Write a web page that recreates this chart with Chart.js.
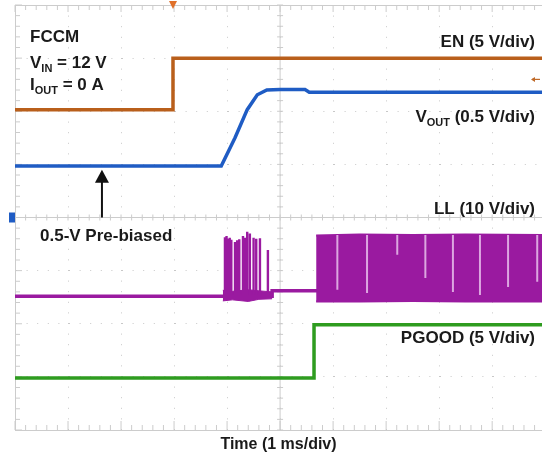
<!DOCTYPE html>
<html><head><meta charset="utf-8">
<script src="https://cdn.jsdelivr.net/npm/chart.js@4/dist/chart.umd.min.js"></script>
<style>html,body{margin:0;padding:0;background:#fff}#wrap{width:542px;height:462px}</style>
</head><body><div id="wrap"><canvas id="c" width="542" height="462"></canvas></div>
<script>
// ---- data (time in ms = divisions, level in screen divisions from bottom) ----
const enTime = [0, 2.98, 2.98, 9.94];
const enLevel = [6.03, 6.03, 7.0, 7.0];

const voutTime = [0, 3.89, 4.15, 4.38, 4.57, 4.75, 5.0, 5.47, 5.55, 9.94];
const voutLevel = [4.97, 4.97, 5.50, 6.03, 6.31, 6.40, 6.41, 6.41, 6.36, 6.36];

const llBaseTime = [0, 3.92, 3.92, 4.85, 4.85, 5.70];
const llBaseLevel = [2.52, 2.52, 2.52, 2.52, 2.62, 2.62];

const llBurstBandTime = [3.92, 4.1, 4.4, 4.6, 4.85];
const llBurstBandHigh = [2.63, 2.61, 2.64, 2.62, 2.60];
const llBurstBandLow  = [2.43, 2.45, 2.42, 2.46, 2.47];

const llBurstTime = [3.96, 3.99, 4.02, 4.05, 4.08, 4.15, 4.19, 4.23, 4.30, 4.34, 4.38, 4.43, 4.50, 4.55, 4.62, 4.77];
const llBurstTop  = [3.63, 3.65, 3.60, 3.62, 3.58, 3.54, 3.57, 3.59, 3.65, 3.62, 3.73, 3.70, 3.62, 3.60, 3.61, 3.39];

const llBandTime = [5.68, 6.5, 7.5, 8.5, 9.94];
const llBandHigh = [3.66, 3.68, 3.67, 3.68, 3.67];
const llBandLow  = [2.42, 2.42, 2.43, 2.42, 2.42];

const llGapTime   = [6.08, 6.64, 7.21, 7.74, 8.26, 8.77, 9.30, 9.85];
const llGapBottom = [2.64, 2.58, 3.30, 2.86, 2.60, 2.54, 2.69, 2.79];

const pgTime = [0, 5.64, 5.64, 9.94];
const pgLevel = [0.98, 0.98, 1.98, 1.98];

// ---- build point lists ----
const pts = (xs, ys) => xs.map((v, i) => ({x: v, y: ys[i]}));
const spikes = (xs, base, tops) => {
  const out = [];
  xs.forEach((v, i) => { out.push({x: v, y: base}, {x: v, y: tops[i]}, {x: v, y: null}); });
  return out;
};

const C_EN = '#b95f1b', C_VOUT = '#1f5cc4', C_LL = '#9a1aa0', C_PG = '#2e9c1f';
const FONT = '"Liberation Sans", Arial, sans-serif';

function line(ctx, x1, y1, x2, y2){ ctx.beginPath(); ctx.moveTo(x1, y1); ctx.lineTo(x2, y2); ctx.stroke(); }

function rich(ctx, parts, x, base, align){
  const big = 'bold 17px ' + FONT, small = 'bold 11px ' + FONT;
  let w = 0;
  parts.forEach(p => { ctx.font = p.sub ? small : big; w += ctx.measureText(p.t).width; });
  let cx = align === 'right' ? x - w : x;
  ctx.textAlign = 'left'; ctx.textBaseline = 'alphabetic';
  parts.forEach(p => {
    ctx.font = p.sub ? small : big;
    ctx.fillText(p.t, cx, base + (p.sub ? 4 : 0));
    cx += ctx.measureText(p.t).width;
  });
}

const scopeDecor = {
  id: 'scopeDecor',
  beforeDatasetsDraw(chart){
    const {ctx, chartArea: a, scales: {x, y}} = chart;
    ctx.save();
    ctx.strokeStyle = '#cccccc'; ctx.lineWidth = 1;
    const cx = x.getPixelForValue(5), cy = y.getPixelForValue(4);
    line(ctx, cx, a.top, cx, a.bottom);
    line(ctx, a.left, cy, a.right, cy);
    line(ctx, a.left, a.top + 0.5, a.right, a.top + 0.5);
    for (let i = 0; i <= 50; i++){
      const px = x.getPixelForValue(i / 5);
      if (px > a.right) break;
      const major = i % 5 === 0;
      line(ctx, px, cy - 3, px, cy + 3);
      line(ctx, px, a.top, px, a.top + (major ? 7 : 5));
      line(ctx, px, a.bottom, px, a.bottom - (major ? 9 : 5));
    }
    for (let i = 0; i <= 40; i++){
      const py = y.getPixelForValue(i / 5);
      const major = i % 5 === 0;
      line(ctx, cx - 3, py, cx + 3, py);
      line(ctx, a.left, py, a.left + (major ? 7 : 5), py);
    }
    ctx.restore();
  },
  afterDatasetsDraw(chart){
    const {ctx, chartArea: a, scales: {x, y}} = chart;
    ctx.save();
    // channel ground marker (VOUT)
    ctx.fillStyle = C_VOUT;
    const gy = y.getPixelForValue(4);
    ctx.fillRect(a.left - 6, gy - 5, 6, 10);
    // trigger position marker
    ctx.fillStyle = '#e0702a';
    const tx = x.getPixelForValue(2.98);
    ctx.beginPath(); ctx.moveTo(tx - 4, a.top - 4); ctx.lineTo(tx + 4, a.top - 4); ctx.lineTo(tx, a.top + 4); ctx.closePath(); ctx.fill();
    // trigger level marker
    const ty = y.getPixelForValue(6.6);
    ctx.strokeStyle = '#c06a28'; ctx.lineWidth = 1.2;
    line(ctx, a.right - 10, ty, a.right - 2, ty);
    ctx.beginPath(); ctx.moveTo(a.right - 11, ty); ctx.lineTo(a.right - 7, ty - 2.5); ctx.lineTo(a.right - 7, ty + 2.5); ctx.closePath(); ctx.fillStyle = '#c06a28'; ctx.fill();
    // annotation arrow
    const ax = x.getPixelForValue(1.64), ay0 = y.getPixelForValue(4.0), ay1 = y.getPixelForValue(4.9);
    ctx.strokeStyle = '#111'; ctx.fillStyle = '#111'; ctx.lineWidth = 2;
    line(ctx, ax, ay0, ax, ay1 + 12);
    ctx.beginPath(); ctx.moveTo(ax, ay1); ctx.lineTo(ax - 7, ay1 + 13); ctx.lineTo(ax + 7, ay1 + 13); ctx.closePath(); ctx.fill();
    // texts
    ctx.fillStyle = '#1a1a1a';
    rich(ctx, [{t: 'FCCM'}], 30, 42, 'left');
    rich(ctx, [{t: 'V'}, {t: 'IN', sub: true}, {t: ' = 12 V'}], 30, 68, 'left');
    rich(ctx, [{t: 'I'}, {t: 'OUT', sub: true}, {t: ' = 0 A'}], 30, 90, 'left');
    rich(ctx, [{t: 'EN (5 V/div)'}], 535, 47, 'right');
    rich(ctx, [{t: 'V'}, {t: 'OUT', sub: true}, {t: ' (0.5 V/div)'}], 535, 122, 'right');
    rich(ctx, [{t: 'LL (10 V/div)'}], 535, 214, 'right');
    rich(ctx, [{t: 'PGOOD (5 V/div)'}], 535, 343, 'right');
    rich(ctx, [{t: '0.5-V Pre-biased'}], 40, 241, 'left');
    ctx.restore();
  }
};

const base = {pointRadius: 0, tension: 0, fill: false, spanGaps: false};

new Chart(document.getElementById('c'), {
  type: 'line',
  data: {
    datasets: [
      {...base, label: 'EN', data: pts(enTime, enLevel), borderColor: C_EN, borderWidth: 3.5},
      {...base, label: 'VOUT', data: pts(voutTime, voutLevel), borderColor: C_VOUT, borderWidth: 3.5},
      {...base, label: 'PGOOD', data: pts(pgTime, pgLevel), borderColor: C_PG, borderWidth: 3.5},
      {...base, label: 'LL gaps', data: spikes(llGapTime, 3.67, llGapBottom), borderColor: '#dca6e0', borderWidth: 2},
      {...base, label: 'LL band high', data: pts(llBandTime, llBandHigh), borderColor: C_LL, borderWidth: 2, fill: '+1', backgroundColor: C_LL},
      {...base, label: 'LL band low', data: pts(llBandTime, llBandLow), borderColor: C_LL, borderWidth: 2},
      {...base, label: 'LL burst', data: spikes(llBurstTime, 2.55, llBurstTop), borderColor: C_LL, borderWidth: 2.4},
      {...base, label: 'LL burst band high', data: pts(llBurstBandTime, llBurstBandHigh), borderColor: C_LL, borderWidth: 1, fill: '+1', backgroundColor: C_LL},
      {...base, label: 'LL burst band low', data: pts(llBurstBandTime, llBurstBandLow), borderColor: C_LL, borderWidth: 1},
      {...base, label: 'LL', data: pts(llBaseTime, llBaseLevel), borderColor: C_LL, borderWidth: 3.5}
    ]
  },
  options: {
    responsive: false, animation: false, devicePixelRatio: 1,
    layout: {padding: {left: 15, top: 5, right: 0, bottom: 0}},
    plugins: {legend: {display: false}, tooltip: {enabled: false}},
    scales: {
      x: {
        type: 'linear', min: 0, max: 9.94,
        afterBuildTicks: s => { s.ticks = s.ticks.filter(t => Number.isInteger(t.value)); },
        ticks: {display: false, stepSize: 1},
        grid: {color: '#c8c8c8', lineWidth: 1, drawTicks: false},
        border: {display: true, color: '#cccccc', dash: [1, 9.6]},
        title: {display: true, text: 'Time (1 ms/div)', color: '#1a1a1a',
                font: {family: FONT, size: 16, weight: 'bold'}, padding: {top: 5, bottom: 7.8}}
      },
      y: {
        type: 'linear', min: 0, max: 8,
        ticks: {display: false, stepSize: 1},
        grid: {color: '#c8c8c8', lineWidth: 1, drawTicks: false},
        border: {display: true, color: '#cccccc', dash: [1, 9.6]}
      }
    }
  },
  plugins: [scopeDecor]
});
</script></body></html>
